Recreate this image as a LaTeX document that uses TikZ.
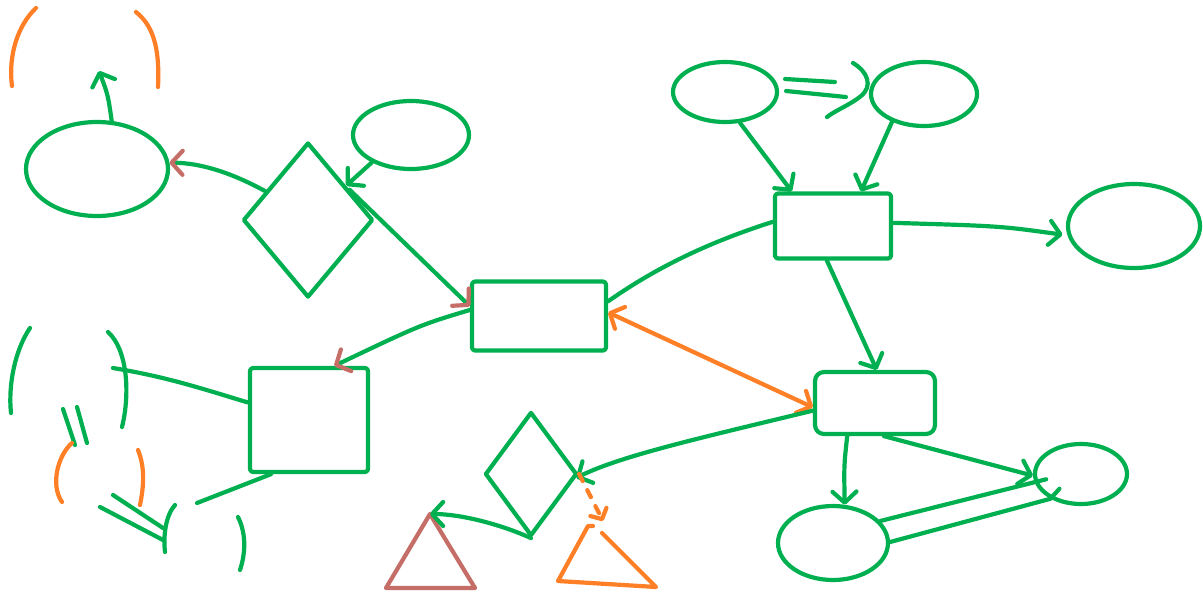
\documentclass[tikz,border=0pt]{standalone}
\usetikzlibrary{shapes.geometric,arrows.meta}
\definecolor{sg}{RGB}{0,176,80}
\definecolor{so}{RGB}{255,127,39}
\definecolor{sb}{RGB}{197,110,104}
\tikzset{
  pen/.style={line width=4.2pt,line cap=round,line join=round},
  gl/.style={pen,draw=sg},
  ol/.style={pen,draw=so},
  bl/.style={pen,draw=sb},
  ell/.style={gl,ellipse,inner sep=0pt},
  box/.style={gl,rectangle,inner sep=0pt,rounded corners=3pt},
  dia/.style={gl,diamond,inner sep=0pt},
  gtip/.style={-{Straight Barb[length=11pt,width=24pt,round]}},
  btip/.style={-{Straight Barb[length=11pt,width=24pt,round,color=sb]}},
  otip2/.style={{Straight Barb[length=11pt,width=24pt,round]}-{Straight Barb[length=11pt,width=24pt,round]}},
  otip/.style={-{Straight Barb[length=8pt,width=18pt,round]}},
}
\begin{document}
\begin{tikzpicture}[x=1pt,y=-1pt]
\useasboundingbox[fill=white] (0,0) rectangle (1203,595);

% nodes
\node[ell,minimum width=142pt,minimum height=94pt] (etl) at (97,169) {};
\node[ell,minimum width=116pt,minimum height=68pt] (ts) at (411,135) {};
\node[dia,minimum width=130pt,minimum height=155pt] (dia1) at (308,220) {};
\node[box,minimum width=134pt,minimum height=69pt] (cbox) at (539,316) {};
\node[box,minimum width=118pt,minimum height=104pt] (sq) at (309,420) {};
\node[ell,minimum width=104pt,minimum height=60pt] (e1) at (725,92) {};
\node[ell,minimum width=106pt,minimum height=64pt] (e2) at (924,94) {};
\node[box,minimum width=116pt,minimum height=65pt] (trbox) at (833,226) {};
\node[ell,minimum width=132pt,minimum height=84pt] (bigell) at (1134,226) {};
\node[box,rounded corners=9pt,minimum width=120pt,minimum height=62pt] (lrbox) at (875,403) {};
\node[ell,minimum width=110pt,minimum height=74pt] (lell) at (833,543) {};
\node[ell,minimum width=92pt,minimum height=60pt] (sell) at (1081,474) {};
\node[dia,minimum width=92pt,minimum height=124pt] (dia2) at (531,474) {};

% triangles
\coordinate (bt) at (430,514);
\draw[bl] (bt) -- (386,588) -- (475,588) -- cycle;
\coordinate (ot) at (588,526);
\draw[ol] (593,526) -- (ot) -- (558,581) -- (656,587) -- (602,533);
\coordinate (oa) at (603,521);

% top-left
\coordinate (up) at (99,71);
\draw[gl,gtip] (etl.73) .. controls (108,95) .. (up);
\draw[ol] (36,8) .. controls (18,25) and (8,55) .. (12,86);
\draw[ol] (136,12) .. controls (152,25) and (160,45) .. (158,87);
\draw[gl,btip] (dia1.146) .. controls (230,172) and (200,163) .. (etl.5);
\draw[gl,gtip] (ts.215) -- (dia1.42);
\draw[gl,btip] (dia1.36) -- (cbox.172);
\draw[gl,btip] (cbox.175) .. controls (420,325) .. (sq.65);

% centre & top-right
\draw[gl] (cbox.12) .. controls (650,272) and (700,245) .. (trbox.176);
\draw[gl,gtip] (e1.296) -- (trbox.140);
\draw[gl,gtip] (e2.221) -- (trbox.51);
\draw[gl,gtip,shorten >=5pt] (trbox.3) .. controls (1000,226) .. (bigell.188);
\draw[gl] ([shift={(6,-13)}]e1.east) -- ([shift={(-34,-12)}]e2.west);
\draw[gl] ([shift={(7,-1)}]e1.east) -- ([shift={(-23,3)}]e2.west);
\draw[gl] (853,63) .. controls (868,72) and (873,86) .. (861,96) .. controls (850,105) and (836,110) .. (827,117);
\draw[gl,gtip] (trbox.260) -- (lrbox.87);
\draw[ol,otip2] (cbox.3) -- (lrbox.184);

% lower right
\draw[gl,gtip] (lrbox.187) .. controls (700,438) and (620,456) .. (dia2.355);
\draw[gl,gtip] (lrbox.230) .. controls (844,465) .. (lell.73);
\draw[gl,gtip] (lrbox.285) -- (sell.182);
\draw[gl,shorten >=-12pt] (lell.25) -- (sell.190);
\draw[gl] (lell.1) -- (sell.219) -- ++(9,-10);

% lower middle
\draw[gl,gtip] (dia2.south) .. controls (500,524) and (460,514) .. (bt);
\draw[ol,dash pattern=on 8pt off 10pt,otip] (dia2.east) -- (oa);

% lower left strokes
\coordinate (ll1) at (113,368);
\coordinate (ll2) at (197,503);
\draw[gl] (ll1) .. controls (167,377) and (200,388) .. (sq.164);
\draw[gl] (sq.235) -- (ll2);
\draw[gl] (30,328) .. controls (15,350) and (8,385) .. (11,413);
\draw[gl] (108,332) .. controls (128,350) and (130,395) .. (122,427);
\draw[gl] (63,409) -- (75,445);
\draw[gl] (77,407) -- (87,443);
\draw[ol] (72,443) .. controls (58,455) and (50,485) .. (62,502);
\draw[ol] (138,450) .. controls (146,470) and (143,490) .. (140,505);
\draw[gl] (113,495) -- (163,528);
\draw[gl] (100,507) -- (163,540);
\draw[gl] (175,505) .. controls (166,515) and (163,535) .. (165,552);
\draw[gl] (238,517) .. controls (247,535) and (245,555) .. (240,570);
\end{tikzpicture}
\end{document}
